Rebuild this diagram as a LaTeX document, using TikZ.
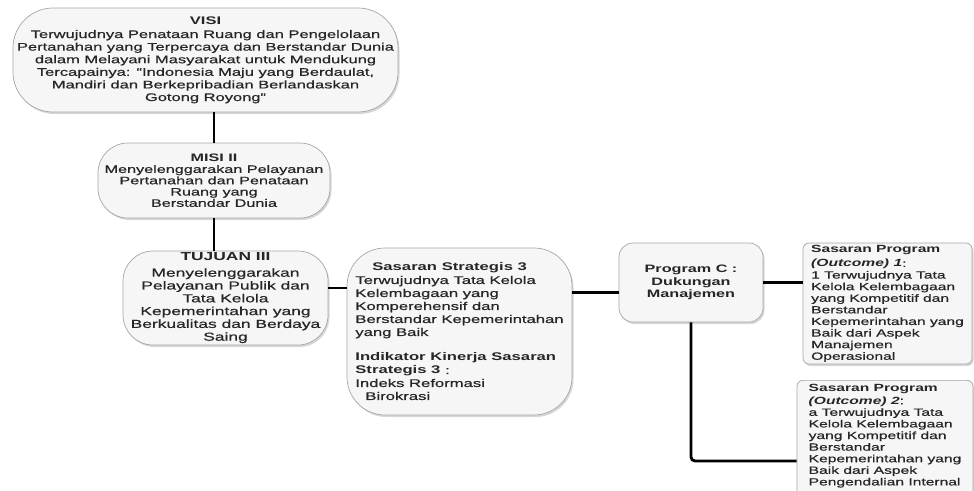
\documentclass[tikz,border=0pt]{standalone}
\usepackage{fontspec}
\setmainfont{Liberation Sans}[FakeStretch=1.5, UprightFeatures={FakeBold=0.6}]
\usetikzlibrary{shadows}

\tikzset{
  blok/.style={draw=gray!70, line width=0.7pt, fill=gray!7, align=center, inner sep=1pt,
    text=black!85,
    drop shadow={shadow xshift=1.5pt, shadow yshift=-2pt, fill=gray!45, opacity=0.7}},
  blokkiri/.style={blok, align=left},
  garis/.style={line width=2.8pt, black}
}

\begin{document}
\begin{tikzpicture}[x=1pt,y=-1pt]
\useasboundingbox (0,0) rectangle (974,490);

\node [blok, rounded corners=40pt, minimum width=385pt, minimum height=104pt,
       font=\fontsize{11}{12.6}\selectfont] (visi)
       at (205.5,60) {\textbf{VISI}\\[1pt]
       Terwujudnya Penataan Ruang dan Pengelolaan\\
       Pertanahan yang Terpercaya dan Berstandar Dunia\\
       dalam Melayani Masyarakat untuk Mendukung\\
       Tercapainya: “Indonesia Maju yang Berdaulat,\\
       Mandiri dan Berkepribadian Berlandaskan\\
       Gotong Royong”};
\node [blok, rounded corners=30pt, minimum width=232pt, minimum height=75pt,
       font=\fontsize{10.8}{11.3}\selectfont] (misi)
       at (214,180.5) {\textbf{MISI II}\\
       Menyelenggarakan Pelayanan\\
       Pertanahan dan Penataan\\
       Ruang yang\\
       Berstandar Dunia};
\node [blok, rounded corners=30pt, minimum width=205pt, minimum height=94pt,
       font=\fontsize{11.6}{12.8}\selectfont] (tujuan)
       at (225.5,298) {\textbf{TUJUAN III}\\[3pt]
       Menyelenggarakan\\
       Pelayanan Publik dan\\
       Tata Kelola\\
       Kepemerintahan yang\\
       Berkualitas dan Berdaya\\
       Saing};
\node [blokkiri, rounded corners=38pt, minimum width=225pt, minimum height=167pt,
       font=\fontsize{11.1}{13}\selectfont] (ss)
       at (459.5,331.5) {\hspace*{17pt}\textbf{Sasaran Strategis 3}\\
       Terwujudnya Tata Kelola\\
       Kelembagaan yang\\
       Komperehensif dan\\
       Berstandar Kepemerintahan\\
       yang Baik\\[12pt]
       \textbf{Indikator Kinerja Sasaran}\\
       \textbf{Strategis 3} :\\
       Indeks Reformasi\\
       \hspace*{10pt}Birokrasi};
\node [blok, rounded corners=14pt, minimum width=144pt, minimum height=79pt,
       font=\fontsize{10.8}{12.5}\selectfont\bfseries] (pc)
       at (691,282.5) {Program C :\\ Dukungan\\ Manajemen};
\node [blokkiri, rounded corners=6pt, minimum width=169pt, minimum height=121pt,
       font=\fontsize{10.4}{11.6}\selectfont] (sp1)
       at (887.5,303.5) {\textbf{Sasaran Program}\\[3pt]
       \textbf{\textit{(Outcome) 1}}:\\
       1 Terwujudnya Tata\\
       Kelola Kelembagaan\\
       yang Kompetitif dan\\
       Berstandar\\
       Kepemerintahan yang\\
       Baik dari Aspek\\
       Manajemen\\
       Operasional};
\node [blokkiri, rounded corners=6pt, minimum width=176pt, anchor=north, inner ysep=4pt,
       font=\fontsize{10.4}{11.6}\selectfont] (sp2)
       at (885,380) {\textbf{Sasaran Program}\\[1pt]
       \textbf{\textit{(Outcome) 2}}:\\
       a Terwujudnya Tata\\
       Kelola Kelembagaan\\
       yang Kompetitif dan\\
       Berstandar\\
       Kepemerintahan yang\\
       Baik dari Aspek\\
       Pengendalian Internal\\[6pt]};

\draw [garis] (misi.north |- visi.south) -- (misi.north);
\draw [garis] (misi.south) -- (misi.south |- tujuan.north);
\draw [garis] ([yshift=10pt]tujuan.east) -- ([yshift=10pt]tujuan.east -| ss.west);
\draw [garis] ([yshift=-10pt]pc.west) -- ([yshift=-10pt]pc.west -| ss.east);
\draw [garis] (pc.east) -- (pc.east -| sp1.west);
\coordinate (tekuk) at (700,461);
\draw [garis, rounded corners=4pt] (pc.south) |- (tekuk -| sp2.west);
\end{tikzpicture}
\end{document}
